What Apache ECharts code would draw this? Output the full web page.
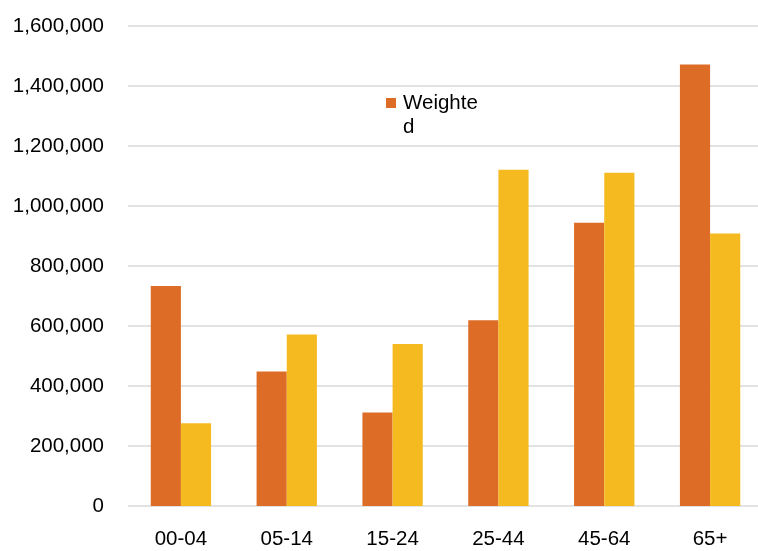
<!DOCTYPE html>
<html>
<head>
<meta charset="utf-8">
<style>
  html, body { margin: 0; padding: 0; background: #ffffff; }
  #chart { width: 758px; height: 551px; }
</style>
<script src="https://cdn.jsdelivr.net/npm/echarts@6/dist/echarts.min.js"></script>
</head>
<body>
<div id="chart"></div>
<script>
// Age groups on the category axis
const ageGroups = ['00-04', '05-14', '15-24', '25-44', '45-64', '65+'];

// Weighted counts per age group
const weightedValues = [733000, 448000, 312000, 619000, 944000, 1472000];

// Unweighted counts per age group
const unweightedValues = [276000, 572000, 540000, 1121000, 1111000, 908000];

// Value axis settings
const yMin = 0;
const yMax = 1600000;
const yStep = 200000;

const chart = echarts.init(document.getElementById('chart'), null, { renderer: 'canvas' });

const fontFamily = '"Liberation Sans", Arial, sans-serif';

chart.setOption({
  animation: false,
  backgroundColor: '#ffffff',
  grid: {
    left: 128, width: 635, top: 26, bottom: 45,
    containLabel: false,
    outerBoundsMode: 'none'
  },
  legend: {
    data: ['Weighted'],
    left: 386,
    top: 67,
    padding: 0,
    itemWidth: 10,
    itemHeight: 10,
    icon: 'rect',
    itemGap: 0,
    // leading blank line keeps the marker level with the first wrapped line
    formatter: name => '\n' + name,
    textStyle: {
      fontFamily: fontFamily,
      fontSize: 20.5,
      color: '#000000',
      width: 84,
      overflow: 'breakAll',
      lineHeight: 24,
      padding: [0, 0, 0, 2]
    }
  },
  xAxis: {
    type: 'category',
    data: ageGroups,
    axisLine: { show: false },
    axisTick: { show: false },
    axisLabel: { fontFamily: fontFamily, fontSize: 20.5, color: '#000000', margin: 23 }
  },
  yAxis: {
    type: 'value',
    min: yMin,
    max: yMax,
    interval: yStep,
    axisLine: { show: false },
    axisTick: { show: false },
    axisLabel: {
      fontFamily: fontFamily,
      fontSize: 20.5,
      color: '#000000',
      margin: 24,
      formatter: v => v.toLocaleString('en-US')
    },
    splitLine: { lineStyle: { color: '#d9d9d9', width: 1.5 } }
  },
  series: [
    {
      name: 'Weighted',
      type: 'bar',
      data: weightedValues,
      barGap: '0%',
      barCategoryGap: '43%',
      itemStyle: { color: '#DC6C26' }
    },
    {
      name: 'Unweighted',
      type: 'bar',
      data: unweightedValues,
      barGap: '0%',
      barCategoryGap: '43%',
      itemStyle: { color: '#F5BA20' }
    }
  ]
});
</script>
</body>
</html>
